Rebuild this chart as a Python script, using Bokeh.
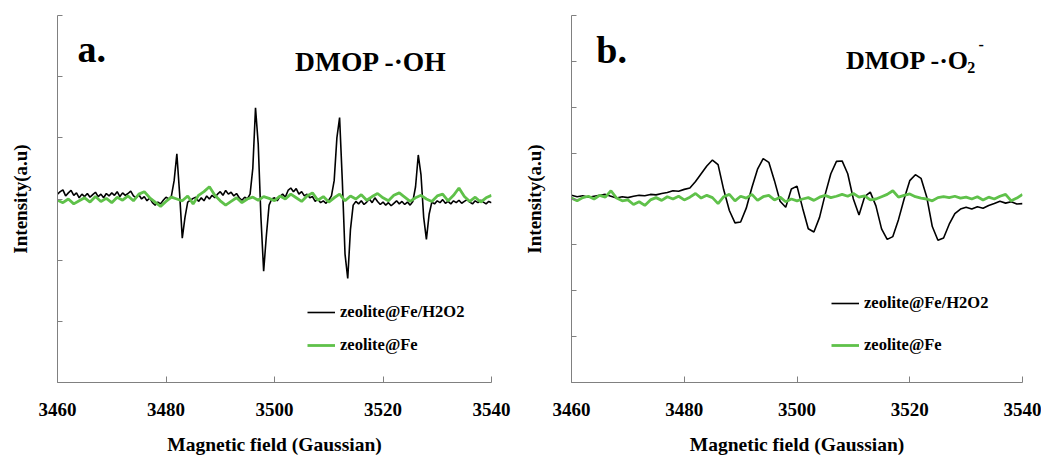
from bokeh.plotting import figure
from bokeh.models import Range1d, FixedTicker, Legend, LegendItem, Label, CustomJSTickFormatter
from bokeh.layouts import row
from bokeh.embed import file_html
from bokeh.resources import INLINE

FONT = "Liberation Serif"

# ---------------- data ----------------
x_ticks = [3460, 3480, 3500, 3520, 3540]
x_start = 3460.0

# panel a (DMPO-OH), black: zeolite@Fe/H2O2, step 0.5 G
a_step_black = 0.5
a_black = [
    0.08, 0.12, 0.15, 0.05, 0.10, 0.14, 0.06, 0.10, 0.02, 0.08,
    0.04, 0.09, 0.03, 0.07, 0.11, 0.04, 0.08, 0.02, 0.09, 0.05,
    0.10, 0.06, 0.12, 0.04, 0.10, 0.06, 0.09, 0.13, 0.05, 0.02,
    0.07, 0.00, 0.04, -0.03, 0.02, -0.06, -0.10, -0.05, -0.08, -0.02,
    0.03, 0.00, 0.05, 0.30, 0.74, 0.10, -0.64, -0.30, -0.05, -0.02,
    0.01, 0.03, -0.04, 0.02, -0.03, 0.05, 0.00, 0.06, 0.02, 0.08,
    0.12, 0.06, 0.14, 0.08, 0.11, 0.05, 0.09, 0.02, -0.02, 0.03,
    0.00, 0.08, 0.50, 1.49, 0.90, -0.30, -1.18, -0.60, -0.10, 0.00,
    0.02, -0.03, 0.04, 0.08, 0.03, 0.14, 0.18, 0.12, 0.17, 0.08,
    0.12, 0.05, 0.08, 0.02, 0.04, -0.04, 0.00, -0.06, -0.03, -0.07,
    -0.02, 0.05, 0.30, 1.00, 1.33, 0.30, -0.90, -1.30, -0.50, -0.10,
    -0.04, -0.08, -0.03, -0.09, -0.05, 0.00, -0.06, 0.02, -0.04, -0.09,
    -0.05, -0.10, -0.06, -0.11, -0.07, -0.03, -0.08, -0.04, -0.09, -0.05,
    -0.10, -0.04, 0.20, 0.72, 0.40, -0.30, -0.66, -0.25, -0.05, -0.08,
    -0.03, -0.06, -0.01, -0.07, -0.04, -0.08, -0.03, -0.06, -0.02, -0.07,
    -0.04, -0.01, -0.05, -0.08, -0.03, -0.06, -0.02, -0.05, -0.08, -0.04,
    -0.06,
]

# panel a, green: zeolite@Fe, step 1 G
a_step_green = 1.0
a_green = [
    -0.02, -0.06, 0.00, -0.08, -0.03, 0.02, -0.05, 0.04, -0.04, 0.01,
    -0.06, 0.03, -0.02, 0.05, -0.03, 0.08, 0.12, 0.02, -0.05, -0.12,
    -0.04, 0.03, 0.00, -0.03, 0.05, -0.08, 0.06, 0.12, 0.20, 0.06,
    -0.03, -0.10, -0.04, 0.02, -0.06, 0.00, 0.03, -0.02, 0.04, 0.01,
    -0.03, 0.05, 0.00, 0.08, 0.02, -0.04, 0.05, 0.10, -0.02, 0.04,
    -0.05, 0.02, 0.08, -0.03, 0.05, 0.00, 0.07, -0.02, 0.04, 0.09,
    0.02, -0.03, 0.06, 0.10, 0.03, -0.04, 0.02, 0.06, 0.00, -0.04,
    0.05, 0.08, -0.03, 0.06, 0.18, 0.04, -0.04, 0.03, -0.05, 0.02,
    0.06,
]

# panel b (DMPO-O2-), black, step 1 G
b_step_black = 1.0
b_black = [
    0.08, 0.05, 0.07, 0.04, 0.06, 0.08, 0.10, 0.06, 0.02, 0.05,
    0.03, 0.06, 0.08, 0.07, 0.10, 0.09, 0.12, 0.14, 0.18, 0.17,
    0.21, 0.24, 0.38, 0.55, 0.72, 0.85, 0.75, 0.20, -0.25, -0.52,
    -0.50, -0.20, 0.25, 0.65, 0.88, 0.80, 0.40, -0.05, -0.18, 0.22,
    0.28, -0.20, -0.65, -0.72, -0.40, 0.10, 0.55, 0.82, 0.83, 0.55,
    0.00, -0.35, 0.05, 0.15, -0.15, -0.65, -0.88, -0.82, -0.45, 0.00,
    0.40, 0.53, 0.45, 0.05, -0.60, -0.90, -0.85, -0.55, -0.32, -0.22,
    -0.18, -0.22, -0.17, -0.20, -0.14, -0.10, -0.05, -0.09, -0.06, -0.11,
    -0.10,
]

# panel b, green, step 1 G
b_step_green = 1.0
b_green = [
    0.02, -0.04, 0.03, 0.06, 0.00, 0.08, 0.04, 0.18, 0.02, -0.04,
    -0.02, -0.12, -0.06, -0.14, -0.02, 0.03, -0.03, 0.05, 0.00, 0.06,
    -0.02, 0.04, 0.12, 0.02, 0.08, 0.03, -0.10, 0.05, 0.10, -0.04,
    0.06, 0.02, 0.10, -0.03, 0.05, 0.08, -0.02, 0.04, -0.06, 0.00,
    -0.04, 0.00, 0.03, -0.03, 0.04, 0.08, 0.03, 0.06, 0.10, 0.06,
    0.12, 0.04, 0.07, -0.02, 0.00, 0.05, 0.10, 0.18, 0.04, 0.08,
    0.11, 0.05, 0.02, 0.00, -0.04, 0.03, 0.05, 0.03, 0.06, 0.02,
    0.04, 0.00, 0.05, -0.02, 0.04, 0.00, 0.06, 0.10, -0.04, 0.02,
    0.10,
]

series_names = ["zeolite@Fe/H2O2", "zeolite@Fe"]
BLACK = "#000000"
GREEN = "#5fc14a"
AXIS = "#808080"


def xs(step, ys):
    return [x_start + step * i for i in range(len(ys))]


def make_panel(width, border_left, border_right, border_top, ylim, black, sb, green, sg,
               legend_loc, legend_spacing):
    p = figure(width=width, height=457, output_backend="svg", toolbar_location=None,
               x_range=Range1d(3460, 3540), y_range=Range1d(-ylim, ylim),
               min_border_left=border_left, min_border_right=border_right,
               min_border_top=border_top, min_border_bottom=75)
    p.outline_line_color = None
    p.grid.visible = False
    p.background_fill_color = "white"
    p.border_fill_color = "white"

    rb = p.line(xs(sb, black), black, line_color=BLACK, line_width=1.6)
    rg = p.line(xs(sg, green), green, line_color=GREEN, line_width=2.8)

    xa = p.xaxis[0]
    xa.ticker = FixedTicker(ticks=x_ticks)
    xa.minor_tick_line_color = None
    xa.major_tick_in = 6
    xa.major_tick_out = 0
    xa.axis_line_color = AXIS
    xa.major_tick_line_color = AXIS
    xa.major_label_text_font = FONT
    xa.major_label_text_font_style = "bold"
    xa.major_label_text_font_size = "19px"
    xa.major_label_text_color = "black"
    xa.major_label_standoff = 20
    xa.axis_label = "Magnetic field (Gaussian)"
    xa.axis_label_text_font = FONT
    xa.axis_label_text_font_style = "bold"
    xa.axis_label_text_font_size = "19.5px"
    xa.axis_label_text_color = "black"
    xa.axis_label_standoff = 15

    ya = p.yaxis[0]
    ya.ticker = FixedTicker(ticks=list(range(-ylim, ylim + 1)))
    ya.minor_tick_line_color = None
    ya.major_tick_in = 5
    ya.major_tick_out = 0
    ya.axis_line_color = AXIS
    ya.major_tick_line_color = AXIS
    ya.formatter = CustomJSTickFormatter(code="return ''")
    ya.major_label_standoff = 0
    ya.axis_label = "Intensity(a.u)"
    ya.axis_label_text_font = FONT
    ya.axis_label_text_font_style = "bold"
    ya.axis_label_text_font_size = "19px"
    ya.axis_label_text_color = "black"
    ya.axis_label_standoff = 27

    legend = Legend(items=[LegendItem(label=series_names[0], renderers=[rb]),
                           LegendItem(label=series_names[1], renderers=[rg])],
                    location=legend_loc, margin=0, padding=0,
                    border_line_color=None, background_fill_alpha=0,
                    glyph_width=28, glyph_height=20, label_height=20,
                    label_standoff=5, spacing=legend_spacing,
                    label_text_font=FONT, label_text_font_style="bold",
                    label_text_font_size="16.5px", label_text_color="black")
    p.add_layout(legend)
    return p


pa = make_panel(520, 57, 29, 15, 3, a_black, a_step_black, a_green, a_step_green, (250, 27), 13)
pb = make_panel(521, 50, 19, 11, 4, b_black, b_step_black, b_green, b_step_green, (260, 27), 22)


def lab(p, x, y, text, size):
    p.add_layout(Label(x=x, y=y, text=text, text_font=FONT, text_font_style="bold",
                       text_font_size=size, text_color="black", text_baseline="alphabetic",
                       text_align="left"))


lab(pa, 3463.7, 2.45, "a.", "38px")
lab(pa, 3503.8, 2.24, "DMOP -·OH", "27.5px")
lab(pb, 3464.4, 3.25, "b.", "38px")
lab(pb, 3508.7, 3.01, "DMOP -·O", "26px")
lab(pb, 3530.2, 2.86, "2", "16px")
lab(pb, 3532.2, 3.36, "-", "16px")

layout = row(pa, pb)
open("out.html", "w").write(file_html(layout, INLINE))
